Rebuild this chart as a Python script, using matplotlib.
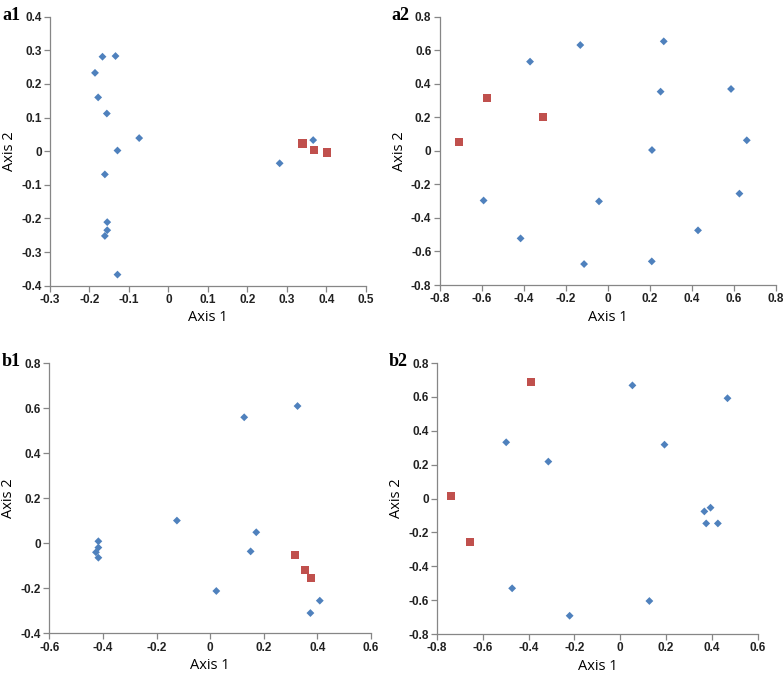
import numpy as np
import matplotlib
matplotlib.use('Agg')
import matplotlib.pyplot as plt

blue = '#4F81BD'
red = '#C0504D'
axis_grey = '#868686'

# panel a1
a1_blue_x = [-0.167, -0.134, -0.186, -0.178, -0.156, -0.074, -0.129, -0.161, -0.155, -0.155, -0.161, -0.129, 0.282, 0.367]
a1_blue_y = [0.281, 0.283, 0.233, 0.160, 0.112, 0.039, 0.002, -0.069, -0.211, -0.235, -0.252, -0.367, -0.036, 0.033]
a1_red_x = [0.340, 0.370, 0.401]
a1_red_y = [0.023, 0.003, -0.004]

# panel a2
a2_blue_x = [-0.131, 0.266, -0.370, 0.251, 0.586, 0.661, 0.210, -0.591, -0.042, 0.626, 0.429, -0.415, -0.113, 0.209]
a2_blue_y = [0.631, 0.653, 0.532, 0.353, 0.369, 0.063, 0.005, -0.296, -0.301, -0.255, -0.474, -0.522, -0.675, -0.659]
a2_red_x = [-0.576, -0.310, -0.708]
a2_red_y = [0.315, 0.200, 0.051]

# panel b1
b1_blue_x = [0.326, 0.127, -0.124, 0.172, 0.151, 0.023, 0.409, 0.374, -0.417, -0.417, -0.426, -0.417]
b1_blue_y = [0.610, 0.560, 0.101, 0.049, -0.036, -0.212, -0.255, -0.310, 0.009, -0.019, -0.040, -0.064]
b1_red_x = [0.316, 0.354, 0.375]
b1_red_y = [-0.052, -0.120, -0.156]

# panel b2
b2_blue_x = [0.053, 0.468, -0.498, 0.193, -0.314, 0.367, 0.394, 0.375, 0.426, -0.472, -0.221, 0.127]
b2_blue_y = [0.668, 0.592, 0.332, 0.318, 0.218, -0.076, -0.054, -0.147, -0.147, -0.530, -0.692, -0.605]
b2_red_x = [-0.391, -0.740, -0.657]
b2_red_y = [0.686, 0.017, -0.257]

panels = [
    ('a1', [0.0638, 0.5755, 0.4026, 0.3997], a1_blue_x, a1_blue_y, a1_red_x, a1_red_y,
     np.arange(-0.3, 0.51, 0.1), np.arange(-0.4, 0.41, 0.1)),
    ('a2', [0.5608, 0.5765, 0.4290, 0.3987], a2_blue_x, a2_blue_y, a2_red_x, a2_red_y,
     np.arange(-0.8, 0.81, 0.2), np.arange(-0.8, 0.81, 0.2)),
    ('b1', [0.0629, 0.0590, 0.4103, 0.4012], b1_blue_x, b1_blue_y, b1_red_x, b1_red_y,
     np.arange(-0.6, 0.61, 0.2), np.arange(-0.4, 0.81, 0.2)),
    ('b2', [0.5574, 0.0579, 0.4091, 0.4027], b2_blue_x, b2_blue_y, b2_red_x, b2_red_y,
     np.arange(-0.8, 0.61, 0.2), np.arange(-0.8, 0.81, 0.2)),
]


def fmt(v):
    v = round(v, 1)
    if abs(v) < 1e-9:
        return '0'
    return '{:.1f}'.format(v)


fig = plt.figure(figsize=(7.84, 6.73), dpi=100)

for name, rect, bx, by, rx, ry, xt, yt in panels:
    ax = fig.add_axes(rect)
    ax.scatter(bx, by, marker='D', s=16, color=blue, edgecolors='none', zorder=3)
    ax.scatter(rx, ry, marker='s', s=34, color=red, edgecolors='none', zorder=3)
    ax.set_xlim(xt[0], xt[-1])
    ax.set_ylim(yt[0], yt[-1])
    ax.set_xticks(xt)
    ax.set_yticks(yt)
    ax.set_xticklabels([fmt(v) for v in xt], fontfamily='Liberation Sans', fontweight='bold', fontsize=8.5)
    ax.set_yticklabels([fmt(v) for v in yt], fontfamily='Liberation Sans', fontweight='bold', fontsize=8.5)
    for s in ['top', 'right']:
        ax.spines[s].set_visible(False)
    for s in ['left', 'bottom']:
        ax.spines[s].set_color(axis_grey)
        ax.spines[s].set_linewidth(0.9)
    ax.tick_params(direction='out', length=4, width=0.9, color=axis_grey, pad=2, labelcolor='#222222')
    ax.set_xlabel('Axis 1', fontsize=10.5, fontfamily='Open Sans', labelpad=3)
    ax.set_ylabel('Axis 2', fontsize=10.5, fontfamily='Open Sans', labelpad=3)
    pos = ax.get_position()
    fig.text(pos.x0 - 0.061, pos.y1 + 0.002, name, fontsize=13, fontweight='bold',
             fontfamily='Liberation Serif', ha='left', va='center')

fig.savefig('out.png', dpi=100)
